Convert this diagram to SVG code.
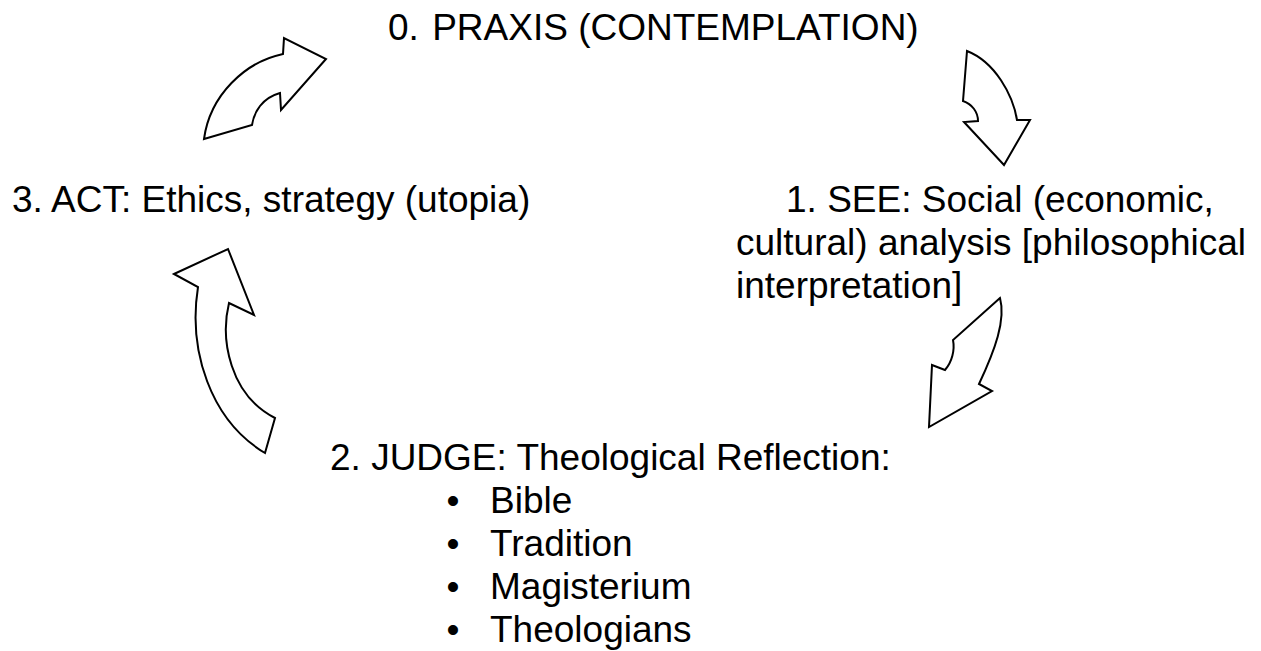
<svg xmlns="http://www.w3.org/2000/svg" width="1261" height="651" viewBox="0 0 1261 651">
<style>
.t{font-family:"Liberation Sans",Arial,sans-serif;font-size:37px;fill:#000}
.arr{fill:#fff;stroke:#000;stroke-width:2;stroke-linejoin:miter}
</style>
<rect width="1261" height="651" fill="#fff"/>
<g id="connectors">
<path class="arr" d="M204,139 L252,125 C254,112 262,98 280,93 L281,110 L326,59 L284,38 L283,54 C245,62 210,95 204,139 Z"/>
<path class="arr" d="M967,51 L963,101 C972,104 978,112 978,121 L964,122 L1004,165 L1030,120 L1017,120 C1013,95 995,62 967,51 Z"/>
<path class="arr" d="M1000,298 L953,340 C955,350 952,362 945,370 L932,365 L929,427 L992,391 L979,384 C995,350 1006,320 1000,298 Z"/>
<path class="arr" d="M174,274 L228,249 L254,315 L229,303 C220,340 230,395 275,418 L265,453 C210,420 188,350 198,287 Z"/>
</g>
<g id="node0"><text class="t" x="388" y="40">0. <tspan dx="3">PRAXIS (CONTEMPLATION)</tspan></text></g>
<g id="node1"><text class="t" x="786" y="212">1. SEE: Social (economic,</text>
<text class="t" x="736" y="255">cultural) analysis [philosophical</text>
<text class="t" x="736" y="298">interpretation]</text></g>
<g id="node2"><text class="t" x="330" y="470">2. JUDGE: Theological Reflection:</text>
<text class="t" x="453" y="513" text-anchor="middle">•</text><text class="t" x="490" y="513">Bible</text>
<text class="t" x="453" y="556" text-anchor="middle">•</text><text class="t" x="490" y="556">Tradition</text>
<text class="t" x="453" y="599" text-anchor="middle">•</text><text class="t" x="490" y="599">Magisterium</text>
<text class="t" x="453" y="642" text-anchor="middle">•</text><text class="t" x="490" y="642">Theologians</text></g>
<g id="node3"><text class="t" x="12" y="212">3. ACT: Ethics, strategy (utopia)</text></g>
</svg>
